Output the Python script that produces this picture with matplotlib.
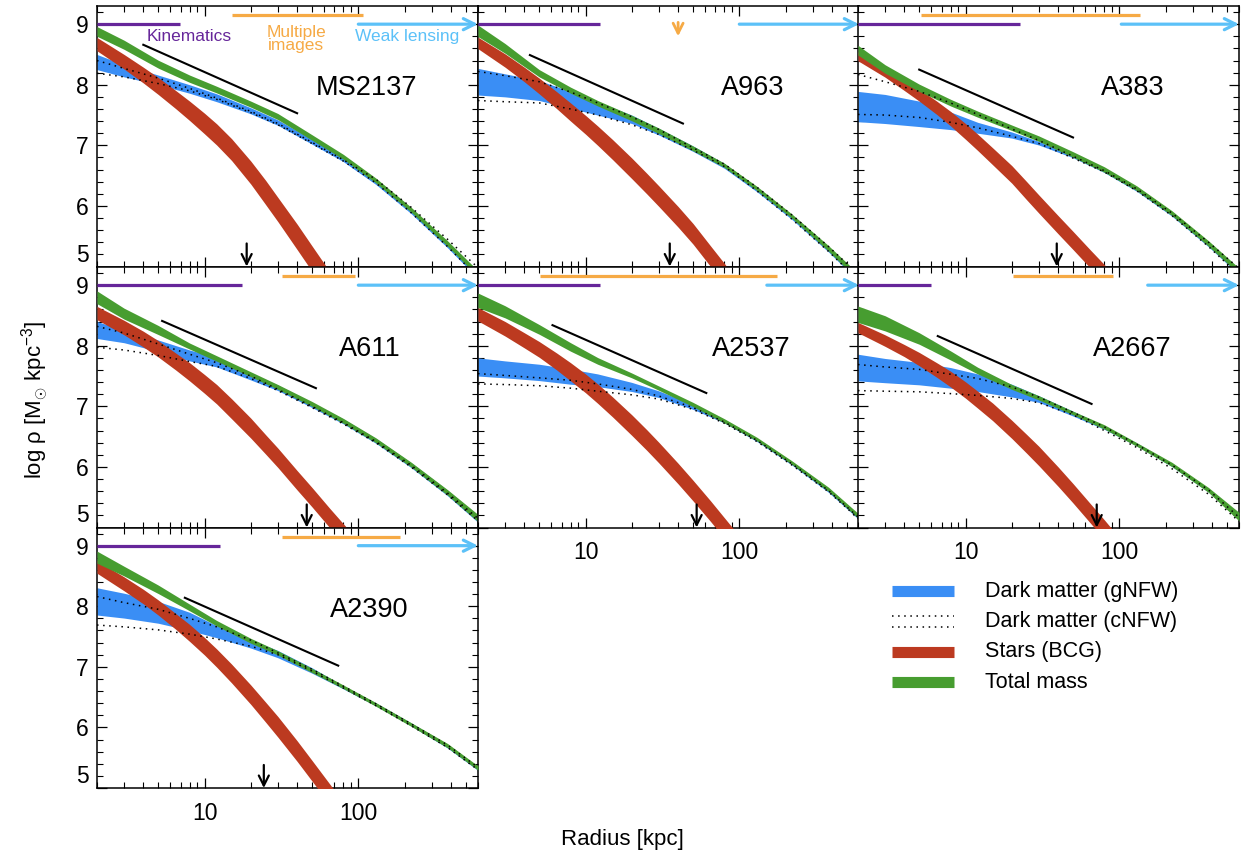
import numpy as np
import matplotlib
matplotlib.use("Agg")
import matplotlib.pyplot as plt
from matplotlib.ticker import FixedLocator, MultipleLocator, NullFormatter

plt.rcParams['font.family'] = ['Liberation Sans', 'DejaVu Sans']
plt.rcParams['mathtext.fontset'] = 'custom'
plt.rcParams['mathtext.rm'] = 'Liberation Sans'
plt.rcParams['mathtext.it'] = 'Liberation Sans:italic'

radius = [2, 3, 5, 8, 12, 20, 30, 50, 80, 130, 220, 380, 600]
star_radius = [2, 3, 4, 5, 6.5, 8, 10, 12, 15, 20, 25, 30, 40, 50, 65, 80, 100]
clusters = ["MS2137", "A963", "A383", "A611", "A2537", "A2667", "A2390"]

# total mass band (log rho): centre and half width
tot_mid = {
    "MS2137": [8.88, 8.66, 8.34, 8.10, 7.92, 7.68, 7.475, 7.13, 6.81, 6.42, 5.94, 5.38, 4.88],
    "A963":   [8.89, 8.60, 8.19, 7.91, 7.695, 7.45, 7.24, 6.95, 6.67, 6.29, 5.83, 5.30, 4.815],
    "A383":   [8.57, 8.26, 7.95, 7.705, 7.515, 7.29, 7.11, 6.85, 6.60, 6.29, 5.88, 5.38, 4.925],
    "A611":   [8.80, 8.53, 8.26, 7.995, 7.79, 7.53, 7.32, 7.04, 6.76, 6.44, 6.04, 5.58, 5.155],
    "A2537":  [8.75, 8.56, 8.27, 7.98, 7.75, 7.51, 7.30, 7.03, 6.76, 6.46, 6.07, 5.63, 5.18],
    "A2667":  [8.52, 8.37, 8.12, 7.84, 7.59, 7.32, 7.14, 6.89, 6.66, 6.37, 6.04, 5.62, 5.18],
    "A2390":  [8.81, 8.58, 8.28, 7.98, 7.72, 7.43, 7.23, 6.94, 6.67, 6.38, 6.05, 5.70, 5.33],
}
tot_hw = {
    "MS2137": [0.08, 0.075, 0.065, 0.06, 0.055, 0.05, 0.05, 0.045, 0.04, 0.04, 0.04, 0.045, 0.05],
    "A963":   [0.095, 0.08, 0.06, 0.05, 0.045, 0.045, 0.045, 0.04, 0.035, 0.035, 0.035, 0.045, 0.055],
    "A383":   [0.08, 0.07, 0.06, 0.055, 0.05, 0.045, 0.045, 0.045, 0.045, 0.04, 0.04, 0.045, 0.05],
    "A611":   [0.105, 0.09, 0.075, 0.05, 0.045, 0.04, 0.04, 0.04, 0.04, 0.04, 0.04, 0.045, 0.06],
    "A2537":  [0.12, 0.10, 0.08, 0.07, 0.055, 0.04, 0.035, 0.035, 0.035, 0.03, 0.03, 0.035, 0.04],
    "A2667":  [0.135, 0.125, 0.095, 0.075, 0.055, 0.04, 0.035, 0.03, 0.035, 0.03, 0.035, 0.04, 0.07],
    "A2390":  [0.10, 0.08, 0.07, 0.055, 0.045, 0.04, 0.035, 0.035, 0.03, 0.03, 0.03, 0.035, 0.035],
}

# dark matter (gNFW) band
dm_mid = {
    "MS2137": [8.375, 8.23, 8.08, 7.93, 7.785, 7.57, 7.375, 7.06, 6.765, 6.39, 5.91, 5.35, 4.85],
    "A963":   [8.05, 7.99, 7.905, 7.75, 7.61, 7.43, 7.225, 6.945, 6.66, 6.27, 5.81, 5.28, 4.79],
    "A383":   [7.64, 7.60, 7.52, 7.405, 7.29, 7.17, 7.035, 6.82, 6.58, 6.27, 5.86, 5.36, 4.905],
    "A611":   [8.26, 8.155, 8.00, 7.84, 7.73, 7.49, 7.305, 7.02, 6.75, 6.43, 6.03, 5.57, 5.14],
    "A2537":  [7.65, 7.61, 7.56, 7.49, 7.43, 7.32, 7.20, 6.99, 6.75, 6.44, 6.05, 5.60, 5.15],
    "A2667":  [7.64, 7.59, 7.54, 7.47, 7.39, 7.26, 7.12, 6.88, 6.65, 6.37, 6.03, 5.61, 5.16],
    "A2390":  [8.08, 8.01, 7.90, 7.75, 7.58, 7.38, 7.21, 6.94, 6.66, 6.38, 6.05, 5.69, 5.32],
}
dm_hw = {
    "MS2137": [0.125, 0.10, 0.08, 0.07, 0.065, 0.05, 0.045, 0.04, 0.035, 0.035, 0.035, 0.04, 0.05],
    "A963":   [0.22, 0.19, 0.165, 0.14, 0.11, 0.07, 0.055, 0.045, 0.04, 0.035, 0.035, 0.04, 0.045],
    "A383":   [0.25, 0.24, 0.21, 0.145, 0.09, 0.05, 0.03, 0.025, 0.03, 0.03, 0.03, 0.035, 0.04],
    "A611":   [0.14, 0.105, 0.095, 0.09, 0.08, 0.055, 0.045, 0.04, 0.04, 0.04, 0.04, 0.045, 0.055],
    "A2537":  [0.15, 0.14, 0.135, 0.125, 0.105, 0.075, 0.055, 0.04, 0.025, 0.02, 0.02, 0.02, 0.02],
    "A2667":  [0.22, 0.20, 0.185, 0.17, 0.145, 0.105, 0.055, 0.04, 0.03, 0.025, 0.025, 0.025, 0.035],
    "A2390":  [0.225, 0.205, 0.18, 0.15, 0.10, 0.07, 0.06, 0.045, 0.025, 0.025, 0.025, 0.03, 0.03],
}

# dark matter (cNFW) dotted bounds
cnfw_hi = {
    "MS2137": [8.40, 8.27, 8.11, 7.94, 7.78, 7.56, 7.36, 7.05, 6.76, 6.44, 5.98, 5.45, 4.98],
    "A963":   [8.22, 8.15, 8.05, 7.88, 7.70, 7.47, 7.26, 6.96, 6.69, 6.31, 5.85, 5.33, 4.86],
    "A383":   [8.17, 8.05, 7.89, 7.70, 7.51, 7.27, 7.08, 6.82, 6.58, 6.28, 5.88, 5.40, 4.97],
    "A611":   [8.32, 8.21, 8.03, 7.86, 7.72, 7.50, 7.28, 7.00, 6.73, 6.42, 6.03, 5.57, 5.15],
    "A2537":  [7.54, 7.51, 7.47, 7.43, 7.37, 7.28, 7.17, 6.98, 6.74, 6.44, 6.05, 5.61, 5.16],
    "A2667":  [7.69, 7.65, 7.61, 7.53, 7.46, 7.32, 7.15, 6.90, 6.66, 6.37, 6.03, 5.62, 5.17],
    "A2390":  [8.16, 8.06, 7.95, 7.80, 7.66, 7.44, 7.23, 6.96, 6.68, 6.39, 6.06, 5.71, 5.34],
}
cnfw_lo = {
    "MS2137": [8.19, 8.13, 8.02, 7.90, 7.76, 7.54, 7.34, 7.03, 6.74, 6.38, 5.89, 5.33, 4.82],
    "A963":   [7.74, 7.72, 7.70, 7.60, 7.50, 7.34, 7.18, 6.92, 6.65, 6.25, 5.78, 5.25, 4.76],
    "A383":   [7.51, 7.50, 7.46, 7.38, 7.29, 7.15, 7.03, 6.79, 6.56, 6.25, 5.84, 5.33, 4.86],
    "A611":   [7.975, 7.93, 7.84, 7.74, 7.66, 7.46, 7.26, 6.98, 6.71, 6.40, 6.00, 5.54, 5.11],
    "A2537":  [7.37, 7.36, 7.34, 7.30, 7.25, 7.19, 7.12, 6.95, 6.72, 6.42, 6.03, 5.59, 5.14],
    "A2667":  [7.26, 7.25, 7.24, 7.21, 7.18, 7.13, 7.06, 6.86, 6.60, 6.32, 5.97, 5.55, 5.10],
    "A2390":  [7.69, 7.66, 7.61, 7.54, 7.46, 7.34, 7.20, 6.93, 6.65, 6.36, 6.03, 5.67, 5.30],
}

# stellar (BCG) band on star_radius
star_mid = {
    "MS2137": [8.67, 8.38, 8.16, 7.98, 7.755, 7.57, 7.36, 7.18, 6.93, 6.55, 6.22, 5.94, 5.49, 5.13, 4.71, 4.38, 4.02],
    "A963":   [8.69, 8.40, 8.17, 7.98, 7.745, 7.55, 7.34, 7.16, 6.93, 6.62, 6.37, 6.16, 5.82, 5.54, 5.17, 4.88, 4.55],
    "A383":   [8.47, 8.21, 8.00, 7.83, 7.62, 7.44, 7.23, 7.05, 6.82, 6.52, 6.25, 6.03, 5.69, 5.43, 5.12, 4.88, 4.62],
    "A611":   [8.54, 8.30, 8.11, 7.95, 7.74, 7.57, 7.37, 7.20, 6.96, 6.64, 6.37, 6.15, 5.78, 5.50, 5.16, 4.90, 4.62],
    "A2537":  [8.52, 8.28, 8.09, 7.94, 7.74, 7.57, 7.38, 7.21, 6.99, 6.69, 6.445, 6.235, 5.89, 5.61, 5.27, 4.99, 4.69],
    "A2667":  [8.30, 8.085, 7.92, 7.78, 7.60, 7.45, 7.27, 7.11, 6.91, 6.62, 6.38, 6.18, 5.84, 5.565, 5.23, 4.965, 4.67],
    "A2390":  [8.65, 8.37, 8.16, 7.98, 7.75, 7.56, 7.34, 7.145, 6.89, 6.54, 6.25, 6.01, 5.61, 5.285, 4.90, 4.59, 4.25],
}
star_hw = {
    "MS2137": [0.11, 0.12, 0.13, 0.14, 0.15, 0.16, 0.17, 0.175, 0.18, 0.19, 0.2, 0.2, 0.21, 0.21, 0.21, 0.21, 0.21],
    "A963":   [0.095, 0.11, 0.12, 0.13, 0.14, 0.15, 0.155, 0.16, 0.165, 0.17, 0.17, 0.17, 0.17, 0.17, 0.17, 0.17, 0.17],
    "A383":   [0.075, 0.085, 0.095, 0.10, 0.11, 0.12, 0.13, 0.135, 0.14, 0.145, 0.15, 0.15, 0.15, 0.15, 0.15, 0.15, 0.15],
    "A611":   [0.11, 0.12, 0.13, 0.135, 0.14, 0.15, 0.155, 0.16, 0.165, 0.165, 0.16, 0.16, 0.16, 0.16, 0.16, 0.16, 0.16],
    "A2537":  [0.11, 0.12, 0.125, 0.13, 0.14, 0.15, 0.155, 0.16, 0.165, 0.17, 0.17, 0.17, 0.17, 0.17, 0.17, 0.17, 0.17],
    "A2667":  [0.085, 0.095, 0.10, 0.11, 0.12, 0.13, 0.135, 0.14, 0.145, 0.15, 0.155, 0.16, 0.16, 0.16, 0.16, 0.16, 0.16],
    "A2390":  [0.105, 0.115, 0.12, 0.125, 0.13, 0.14, 0.145, 0.15, 0.155, 0.16, 0.165, 0.17, 0.17, 0.17, 0.17, 0.17, 0.17],
}

# radial coverage of each data set (kpc), same order as clusters
kin_end = [6.9, 12.4, 22.5, 17.5, 12.4, 6.0, 12.7]
mult_start = [15.1, None, 5.1, 31.8, 5.05, 20.3, 32.1]
mult_end = [108, None, 136, 94.6, 177, 90.6, 186]
mult_arrow = [None, 40, None, None, None, None, None]
wl_start = [100, 100, 103, 100, 151, 153, 100]
re_arrow = [18.8, 35.3, 39.2, 46.2, 52.8, 71.3, 24.3]

# reference power law segment: start/end radius and log rho
line_r0 = [4.0, 4.35, 5.0, 5.3, 6.1, 6.6, 7.45]
line_r1 = [40, 43, 50, 53, 61, 66, 74]
line_v0 = [8.66, 8.49, 8.25, 8.41, 8.34, 8.16, 8.14]
line_v1 = [7.53, 7.36, 7.13, 7.30, 7.22, 7.04, 7.02]
label_r = [113, 122, 122, 118, 120, 122, 118]

c_dm = '#3a8ef5'
c_star = '#bc3a20'
c_tot = '#479d30'
c_kin = '#66269a'
c_mult = '#f6aa45'
c_wl = '#5cc1f8'
dot = (0, (1, 3))

W, H = 1250, 856
fig = plt.figure(figsize=(12.5, 8.56), dpi=100)
col_left = [97, 478, 858]
row_top = [6, 267, 527.5]
pw, ph = 381, 260.5

panel_col = [0, 1, 2, 0, 1, 2, 0]
panel_row = [0, 0, 0, 1, 1, 1, 2]
bottom_of_col = {0: 6, 1: 4, 2: 5}

r = np.array(radius, dtype=float)
rs = np.array(star_radius, dtype=float)
for i, name in enumerate(clusters):
    c, rw = panel_col[i], panel_row[i]
    ax = fig.add_axes([col_left[c] / W, 1 - (row_top[rw] + ph) / H, pw / W, ph / H])

    dm = np.array(dm_mid[name]); dmw = np.array(dm_hw[name])
    ax.fill_between(r, dm - dmw, dm + dmw, color=c_dm, lw=0, zorder=2)

    sm = np.array(star_mid[name]); sw = np.array(star_hw[name])
    ax.fill_between(rs, sm - sw, sm + sw, color=c_star, lw=0, zorder=3)

    tm = np.array(tot_mid[name]); tw = np.array(tot_hw[name])
    ax.fill_between(r, tm - tw, tm + tw, color=c_tot, lw=0, zorder=4)

    ax.plot(r, cnfw_hi[name], color='k', lw=1.1, ls=dot, zorder=5)
    ax.plot(r, cnfw_lo[name], color='k', lw=1.1, ls=dot, zorder=5)

    ax.plot([line_r0[i], line_r1[i]], [line_v0[i], line_v1[i]], color='k', lw=1.5, zorder=6)

    # data coverage bars
    ax.plot([2, kin_end[i]], [9.0, 9.0], color=c_kin, lw=2.3, solid_capstyle='butt',
            zorder=6, clip_on=False)
    if mult_start[i] is not None:
        ax.plot([mult_start[i], mult_end[i]], [9.15, 9.15], color=c_mult, lw=2.3,
                solid_capstyle='butt', zorder=6)
    if mult_arrow[i] is not None:
        ax.annotate('', xy=(mult_arrow[i], 8.80), xytext=(mult_arrow[i], 9.03),
                    arrowprops=dict(arrowstyle='->', color=c_mult, lw=2.0,
                                    mutation_scale=18, shrinkA=0, shrinkB=0),
                    annotation_clip=False, zorder=6)
    ax.annotate('', xy=(600, 9.0), xytext=(wl_start[i], 9.0),
                arrowprops=dict(arrowstyle='->', color=c_wl, lw=2.3,
                                mutation_scale=20, shrinkA=0, shrinkB=0),
                annotation_clip=False, zorder=6)
    ax.annotate('', xy=(re_arrow[i], 5.0), xytext=(re_arrow[i], 5.38),
                arrowprops=dict(arrowstyle='->', color='k', lw=1.6,
                                mutation_scale=18, shrinkA=0, shrinkB=0),
                annotation_clip=False, zorder=7)

    ax.text(label_r[i], 7.94, name, ha='center', va='center', fontsize=19.5, zorder=8)

    if i == 0:
        ax.text(7.9, 8.79, 'Kinematics', color=c_kin, ha='center', va='center', fontsize=12.5)
        ax.text(39.6, 8.76, 'Multiple\nimages', color=c_mult, ha='center', va='center',
                fontsize=12.5, linespacing=0.85)
        ax.text(209, 8.79, 'Weak lensing', color=c_wl, ha='center', va='center', fontsize=12.5)

    ax.set_xscale('log')
    ax.set_xlim(2, 600)
    ax.set_ylim(5, 9.3)
    ax.set_xticks([10, 100], labels=['10', '100'])
    ax.xaxis.set_minor_locator(FixedLocator([2, 3, 4, 5, 6, 7, 8, 9, 20, 30, 40, 50, 60, 70,
                                             80, 90, 200, 300, 400, 500, 600]))
    ax.xaxis.set_minor_formatter(NullFormatter())
    ax.set_yticks([5, 6, 7, 8, 9], labels=['5', '6', '7', '8', '9'])
    ax.yaxis.set_minor_locator(MultipleLocator(0.2))
    ax.tick_params(which='both', direction='in', top=True, right=True, labelsize=16.5)
    ax.tick_params(which='major', length=7.5, width=0.9)
    ax.tick_params(which='minor', length=4, width=0.8)
    ax.tick_params(axis='x', pad=10)
    ax.tick_params(axis='y', pad=6)
    for sp in ax.spines.values():
        sp.set_linewidth(1.1)
    ax.tick_params(labelbottom=(bottom_of_col[c] == i), labelleft=(c == 0))
    if c == 0:
        ax.get_yticklabels()[0].set_verticalalignment('bottom')

fig.text(35 / W, 1 - 400 / H, r'log ρ [M$_{\odot}$ kpc$^{-3}$]', rotation=90,
         ha='center', va='center', fontsize=16)
fig.text(622 / W, 1 - 840 / H, 'Radius [kpc]', ha='center', va='center', fontsize=16)

# legend drawn in figure pixel coordinates
leg = fig.add_axes([0, 0, 1, 1], facecolor='none')
leg.set_xlim(0, W)
leg.set_ylim(H, 0)
leg.axis('off')
leg.plot([892, 954], [591, 591], color=c_dm, lw=8, solid_capstyle='butt')
leg.plot([892, 954], [616, 616], color='k', lw=1.1, ls=dot)
leg.plot([892, 954], [627, 627], color='k', lw=1.1, ls=dot)
leg.plot([892, 954], [652, 652], color=c_star, lw=8, solid_capstyle='butt')
leg.plot([892, 954], [682, 682], color=c_tot, lw=8, solid_capstyle='butt')
for yy, txt in zip([591, 621, 652, 682],
                   ['Dark matter (gNFW)', 'Dark matter (cNFW)', 'Stars (BCG)', 'Total mass']):
    leg.text(985, yy, txt, ha='left', va='center', fontsize=15.5)

fig.savefig('out.png', dpi=100)
